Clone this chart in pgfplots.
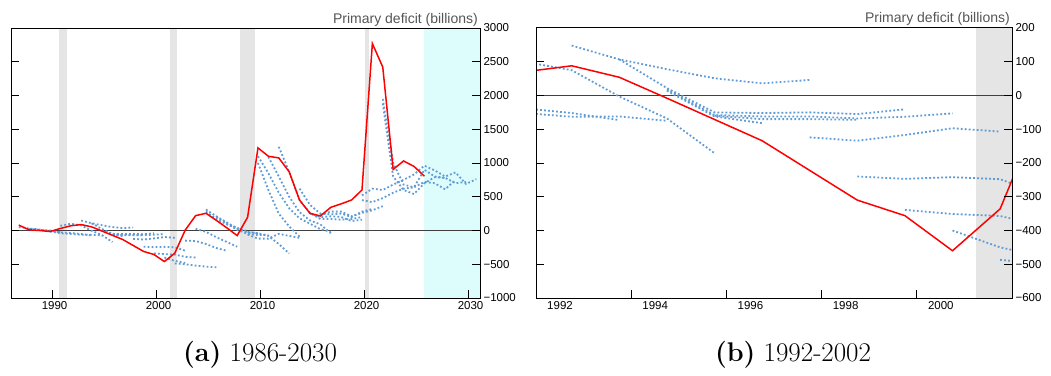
\documentclass[border=0pt]{standalone}
\usepackage{fontspec}
\usepackage{pgfplots}
\pgfplotsset{compat=1.18}
\newfontfamily\arial{Liberation Sans}
\definecolor{recgray}{RGB}{229,229,229}
\definecolor{projcyan}{RGB}{221,252,252}
\definecolor{fcblue}{RGB}{95,155,212}
\definecolor{titlegray}{RGB}{85,85,85}

\pgfplotsset{
  fc/.style={fcblue, line width=1.8pt, dash pattern=on 1.8pt off 2.2pt},
  act/.style={red, line width=1.5pt},
  common/.style={
    scale only axis, height=270pt,
    axis on top,
    tick align=inside,
    xtick pos=left,
    ytick pos=both,
    yticklabel pos=right,
    major tick length=8pt,
    axis line style={line width=1pt, black},
    major tick style={line width=1pt, black},
    tick label style={font=\arial\fontsize{11.5}{13}\selectfont, text=black},
  }
}

\newcommand{\forecasts}{%
\addplot[fc] coordinates {(1986.75,50) (1987.75,30) (1988.75,15) (1989.75,-10) (1990.75,-20)};
\addplot[fc] coordinates {(1987.75,25) (1988.75,10) (1989.75,0) (1990.75,-30) (1991.75,-38) (1992.75,-52) (1993.75,-73)};
\addplot[fc] coordinates {(1989.75,-15) (1990.75,-40) (1991.75,-52) (1992.75,-63) (1993.75,-62) (1994.75,-75)};
\addplot[fc] coordinates {(1990.75,70) (1991.75,100) (1992.75,75) (1993.75,-3) (1994.75,-68) (1995.75,-171)};
\addplot[fc] coordinates {(1992.75,148) (1993.75,107) (1994.75,78) (1995.75,51) (1996.75,36) (1997.75,46)};
\addplot[fc] coordinates {(1993.75,107) (1994.75,22) (1995.75,-50) (1996.75,-52) (1997.75,-50) (1998.75,-55) (1999.75,-41)};
\addplot[fc] coordinates {(1994.75,18) (1995.75,-58) (1996.75,-62) (1997.75,-62) (1998.75,-68) (1999.75,-63) (2000.75,-53)};
\addplot[fc] coordinates {(1994.75,14) (1995.75,-62) (1996.75,-82)};
\addplot[fc] coordinates {(1995.75,-60) (1996.75,-70) (1997.75,-70) (1998.75,-72)};
\addplot[fc] coordinates {(1997.75,-124) (1998.75,-134) (1999.75,-117) (2000.75,-97) (2001.75,-107)};
\addplot[fc] coordinates {(1998.75,-240) (1999.75,-247) (2000.75,-242) (2001.75,-248) (2002.75,-300)};
\addplot[fc] coordinates {(1999.75,-339) (2000.75,-351) (2001.75,-357) (2002.75,-390) (2003.75,-400)};
\addplot[fc] coordinates {(2000.75,-400) (2001.75,-450) (2002.75,-480)};
\addplot[fc] coordinates {(2001.75,-487) (2002.75,-500) (2003.75,-520) (2004.75,-535) (2005.75,-545)};
\addplot[fc] coordinates {(2002.75,-150) (2003.75,-155) (2004.75,-200) (2005.75,-260) (2006.75,-300)};
\addplot[fc] coordinates {(2003.75,25) (2004.75,-20) (2005.75,-100) (2006.75,-170) (2007.75,-240)};
\addplot[fc] coordinates {(2004.75,310) (2005.75,210) (2006.75,120) (2007.75,30) (2008.75,-10)};
\addplot[fc] coordinates {(2004.75,280) (2005.75,170) (2006.75,90) (2007.75,40) (2008.75,-30) (2009.75,-40)};
\addplot[fc] coordinates {(2005.75,200) (2006.75,100) (2007.75,10) (2008.75,-50) (2009.75,-70) (2010.75,-60)};
\addplot[fc] coordinates {(2008.75,-20) (2009.75,-40) (2010.75,-80) (2011.75,-200) (2012.75,-340)};
\addplot[fc] coordinates {(2008.75,-60) (2009.75,-120) (2010.75,-120) (2011.75,-50) (2012.75,-80) (2013.75,-110)};
\addplot[fc] coordinates {(2009.75,1000) (2010.75,600) (2011.75,250) (2012.75,60) (2013.75,-90)};
\addplot[fc] coordinates {(2009.75,1100) (2010.75,850) (2011.75,560) (2012.75,330) (2013.75,180) (2014.75,100) (2015.75,20) (2016.75,-20)};
\addplot[fc] coordinates {(2010.75,1090) (2011.75,800) (2012.75,500) (2013.75,270) (2014.75,150) (2015.75,90) (2016.75,-40)};
\addplot[fc] coordinates {(2011.75,1240) (2012.75,870) (2013.75,450) (2014.75,260) (2015.75,170) (2016.75,170) (2017.75,160) (2018.75,170) (2019.75,200)};
\addplot[fc] coordinates {(2013.75,620) (2014.75,380) (2015.75,250) (2016.75,240) (2017.75,250) (2018.75,200) (2019.75,280) (2020.75,320)};
\addplot[fc] coordinates {(2014.75,250) (2015.75,200) (2016.75,210) (2017.75,200) (2018.75,140) (2019.75,160)};
\addplot[fc] coordinates {(2015.75,230) (2016.75,280) (2017.75,280) (2018.75,210) (2019.75,260) (2020.75,300) (2021.75,360)};
\addplot[fc] coordinates {(2019.75,520) (2020.75,620) (2021.75,600) (2022.75,680) (2023.75,750) (2024.75,830) (2025.75,960) (2026.75,890) (2027.75,800) (2028.75,860) (2029.75,690) (2030.75,760)};
\addplot[fc] coordinates {(2019.75,450) (2020.75,420) (2021.75,480) (2022.75,560) (2023.75,620) (2024.75,640) (2025.75,900) (2026.75,800) (2027.75,780)};
\addplot[fc] coordinates {(2021.75,1950) (2022.75,1000) (2023.75,680) (2024.75,640) (2025.75,720) (2026.75,700) (2027.75,610) (2028.75,750)};
\addplot[fc] coordinates {(2021.75,1880) (2022.75,800) (2023.75,600) (2024.75,540) (2025.75,700) (2026.75,790) (2027.75,780) (2028.75,700) (2029.75,720)};
}

\newcommand{\actual}{%
\addplot[act] coordinates {(1986.75,80) (1987.75,10) (1988.75,0) (1989.75,-15) (1990.75,30) (1991.75,70) (1992.75,88) (1993.75,54) (1994.75,-8) (1995.75,-71) (1996.75,-134) (1997.75,-222) (1998.75,-310) (1999.75,-356) (2000.75,-460) (2001.75,-336) (2002.75,5) (2003.75,220) (2004.75,255) (2005.75,150) (2006.75,40) (2007.75,-75) (2008.75,195) (2009.75,1224) (2010.75,1100) (2011.75,1075) (2012.75,870) (2013.75,450) (2014.75,255) (2015.75,215) (2016.75,343) (2017.75,395) (2018.75,452) (2019.75,600) (2020.75,2770) (2021.75,2420) (2022.75,905) (2023.75,1030) (2024.75,950) (2025.75,805)};
}

\begin{document}
\begin{tikzpicture}
\path[use as bounding box] (-11pt,-77pt) rectangle (1040pt,298pt);
\begin{axis}[common, name=L, at={(0pt,0pt)}, anchor=south west,
  width=469pt,
  xmin=1986, xmax=2031.1, ymin=-1000, ymax=3000,
  xtick={1990,2000,2010,2020,2030},
  xticklabels={1990,2000,2010,2020,2030},
  xticklabel style={xshift=2pt},
  ytick={-1000,-500,0,500,1000,1500,2000,2500,3000},
  yticklabels={−1000,−500,0,500,1000,1500,2000,2500,3000},
]
\addplot[fill=recgray, draw=none] coordinates {(1990.6,-1000) (1991.35,-1000) (1991.35,3000) (1990.6,3000)} -- cycle;
\addplot[fill=recgray, draw=none] coordinates {(2001.25,-1000) (2002.0,-1000) (2002.0,3000) (2001.25,3000)} -- cycle;
\addplot[fill=recgray, draw=none] coordinates {(2008.0,-1000) (2009.5,-1000) (2009.5,3000) (2008.0,3000)} -- cycle;
\addplot[fill=recgray, draw=none] coordinates {(2020.0,-1000) (2020.4,-1000) (2020.4,3000) (2020.0,3000)} -- cycle;
\addplot[fill=projcyan, draw=none] coordinates {(2025.75,-1000) (2031.1,-1000) (2031.1,3000) (2025.75,3000)} -- cycle;
\addplot[black!75, line width=0.8pt] coordinates {(1986,0) (2031.1,0)};
\forecasts
\actual
\end{axis}
\node[anchor=base east, inner sep=0pt, font=\arial\fontsize{14}{16}\selectfont, text=titlegray] at ([xshift=-2pt, yshift=5pt]L.north east) {Primary deficit (billions)};

\begin{axis}[common, name=R, at={(525pt,0pt)}, anchor=south west,
  width=476pt,
  xmin=1992, xmax=2002, ymin=-600, ymax=200,
  xtick={1992,1994,1996,1998,2000},
  xticklabels={1992,1994,1996,1998,2000},
  xticklabel style={xshift=24pt},
  ytick={-600,-500,-400,-300,-200,-100,0,100,200},
  yticklabels={−600,−500,−400,−300,−200,−100,0,100,200},
]
\addplot[fill=recgray, draw=none] coordinates {(2001.25,-600) (2002.0,-600) (2002.0,200) (2001.25,200)} -- cycle;
\addplot[black!75, line width=0.8pt] coordinates {(1992,0) (2002,0)};
\forecasts
\actual
\end{axis}
\node[anchor=base east, inner sep=0pt, font=\arial\fontsize{14}{16}\selectfont, text=titlegray] at ([xshift=-2pt, yshift=5pt]R.north east) {Primary deficit (billions)};

\node[font=\fontsize{27}{32}\selectfont] at (249pt,-57pt) {\textbf{(a)} 1986-2030};
\node[font=\fontsize{27}{32}\selectfont] at (782pt,-57pt) {\textbf{(b)} 1992-2002};
\end{tikzpicture}
\end{document}
